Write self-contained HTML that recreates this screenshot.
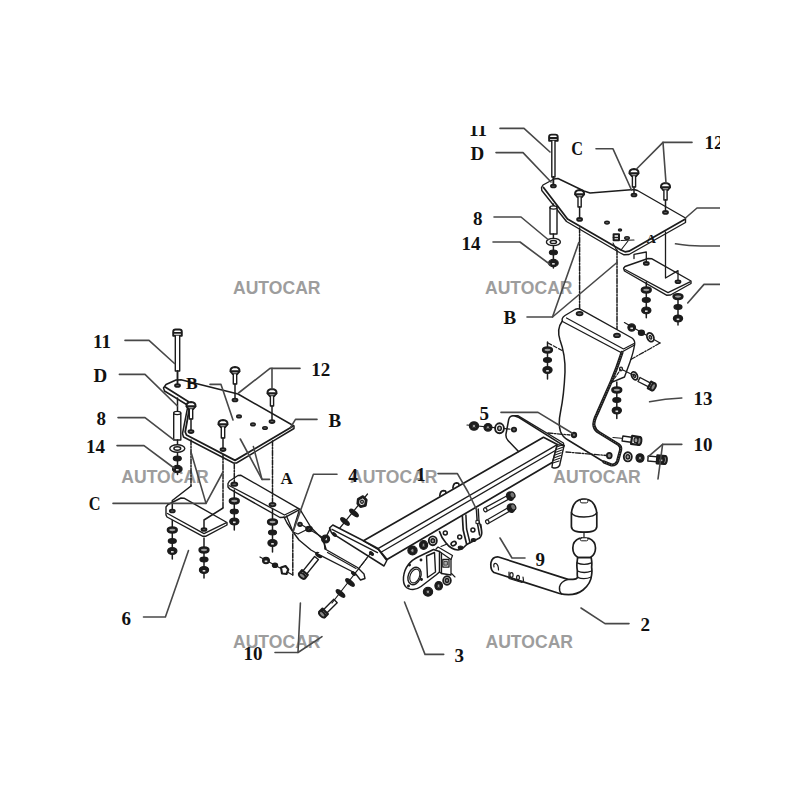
<!DOCTYPE html>
<html><head><meta charset="utf-8"><title>AUTOCAR tow bar diagram</title>
<style>html,body{margin:0;padding:0;background:#fff}body{width:800px;height:800px;overflow:hidden}svg{display:block}</style>
</head><body>
<svg width="800" height="800" viewBox="0 0 800 800" fill="none" stroke-linecap="round" stroke-linejoin="round">
<defs><clipPath id="c"><rect x="0" y="126" width="720" height="674"/></clipPath></defs>
<rect width="800" height="800" fill="#fff"/>
<g clip-path="url(#c)">
<text x="233" y="293.8" font-family='"Liberation Sans", sans-serif' font-size="18" font-weight="bold" fill="#9d9d9d" textLength="87.5" lengthAdjust="spacingAndGlyphs">AUTOCAR</text>
<text x="485" y="293.8" font-family='"Liberation Sans", sans-serif' font-size="18" font-weight="bold" fill="#9d9d9d" textLength="87.5" lengthAdjust="spacingAndGlyphs">AUTOCAR</text>
<text x="121.3" y="482.6" font-family='"Liberation Sans", sans-serif' font-size="18" font-weight="bold" fill="#9d9d9d" textLength="87.5" lengthAdjust="spacingAndGlyphs">AUTOCAR</text>
<text x="350" y="482.6" font-family='"Liberation Sans", sans-serif' font-size="18" font-weight="bold" fill="#9d9d9d" textLength="87.5" lengthAdjust="spacingAndGlyphs">AUTOCAR</text>
<text x="553.3" y="482.6" font-family='"Liberation Sans", sans-serif' font-size="18" font-weight="bold" fill="#9d9d9d" textLength="87.5" lengthAdjust="spacingAndGlyphs">AUTOCAR</text>
<text x="233" y="648" font-family='"Liberation Sans", sans-serif' font-size="18" font-weight="bold" fill="#9d9d9d" textLength="87.5" lengthAdjust="spacingAndGlyphs">AUTOCAR</text>
<text x="485.5" y="648" font-family='"Liberation Sans", sans-serif' font-size="18" font-weight="bold" fill="#9d9d9d" textLength="87.5" lengthAdjust="spacingAndGlyphs">AUTOCAR</text>
<path d="M163.5 388L166 384.5L176 380L181 379.8L238 394L294 426L294 428.5L236.5 463L233.5 463L183.5 437L182.5 433.5L187.5 408L186.5 404.5L164.5 391Z" stroke="#1c1c1c" stroke-width="1.5" fill="#fff"/>
<path d="M165.5 387.3L188.5 401.8L189.9 405.5L185.2 432L186.5 435L235 460.4L292.5 426.5" stroke="#1c1c1c" stroke-width="1.8" fill="none"/>
<path d="M173.2 335.7L173.2 331.7Q173.2 329.5 175.6 329.5L179.4 329.5Q181.8 329.5 181.8 331.7L181.8 335.7Z" stroke="#1c1c1c" stroke-width="1.9" fill="#fff"/>
<path d="M173.7 332.9L181.3 332.9" stroke="#1c1c1c" stroke-width="1.8"/>
<path d="M175.3 335.7L175.3 371L179.7 371L179.7 335.7" stroke="#1c1c1c" stroke-width="1.4" fill="#fff"/>
<path d="M177.5 371L177.5 384.5" stroke="#1c1c1c" stroke-width="1.5"/>
<ellipse cx="177.5" cy="385.5" rx="2.5" ry="1.4" stroke="#1c1c1c" stroke-width="1.8" fill="#666"/>
<path d="M177.5 371L177.5 384" stroke="#1c1c1c" stroke-width="1.5"/>
<path d="M177.5 398L177.5 412" stroke="#1c1c1c" stroke-width="1.5"/>
<path d="M173.7 413L173.7 440L180.8 440L180.8 413" stroke="#1c1c1c" stroke-width="1.4" fill="#fff"/>
<ellipse cx="177.2" cy="413" rx="3.5" ry="1.6" stroke="#1c1c1c" stroke-width="1.3" fill="#fff"/>
<path d="M177.5 440L177.5 474.5" stroke="#1c1c1c" stroke-width="1.5"/>
<ellipse cx="177.3" cy="448.5" rx="7.5" ry="3.8" stroke="#1c1c1c" stroke-width="1.4" fill="#fff"/>
<ellipse cx="177.3" cy="448.5" rx="3.4" ry="1.7" stroke="#1c1c1c" stroke-width="1.5" fill="#fff"/>
<ellipse cx="177.3" cy="458.5" rx="4" ry="2.4" stroke="#1c1c1c" stroke-width="1.2" fill="#1c1c1c"/>
<ellipse cx="177.3" cy="469" rx="4.8" ry="3.6" stroke="#1c1c1c" stroke-width="1.2" fill="#1c1c1c"/>
<rect x="176" y="469" width="2.6" height="1.6" fill="#ddd"/>
<path d="M230.4 371.3Q230.2 367.3 235 367Q239.8 367.3 239.6 371.3L237.2 374.2L232.8 374.2Z" stroke="#1c1c1c" stroke-width="1.8" fill="#fff"/>
<path d="M230.8 371.4L239.2 371.4" stroke="#1c1c1c" stroke-width="2.2"/>
<path d="M233.3 374.2L233.3 384L236.7 384L236.7 374.2" stroke="#1c1c1c" stroke-width="1.4" fill="#fff"/>
<path d="M235 384L235 399" stroke="#1c1c1c" stroke-width="1.5"/>
<ellipse cx="235" cy="400" rx="2.5" ry="1.4" stroke="#1c1c1c" stroke-width="1.8" fill="#666"/>
<path d="M267.4 393.3Q267.2 389.3 272 389Q276.8 389.3 276.6 393.3L274.2 396.2L269.8 396.2Z" stroke="#1c1c1c" stroke-width="1.8" fill="#fff"/>
<path d="M267.8 393.4L276.2 393.4" stroke="#1c1c1c" stroke-width="2.2"/>
<path d="M270.4 396.2L270.4 406L273.6 406L273.6 396.2" stroke="#1c1c1c" stroke-width="1.4" fill="#fff"/>
<path d="M272 406L272 420.6" stroke="#1c1c1c" stroke-width="1.5"/>
<ellipse cx="272" cy="421.6" rx="2.5" ry="1.4" stroke="#1c1c1c" stroke-width="1.8" fill="#666"/>
<path d="M186.4 406.3Q186.2 402.3 191 402Q195.8 402.3 195.6 406.3L193.2 409.2L188.8 409.2Z" stroke="#1c1c1c" stroke-width="1.8" fill="#fff"/>
<path d="M186.8 406.4L195.2 406.4" stroke="#1c1c1c" stroke-width="2.2"/>
<path d="M189.3 409.2L189.3 419L192.7 419L192.7 409.2" stroke="#1c1c1c" stroke-width="1.4" fill="#fff"/>
<path d="M191 419L191 430.6" stroke="#1c1c1c" stroke-width="1.5"/>
<ellipse cx="191" cy="431.6" rx="2.5" ry="1.4" stroke="#1c1c1c" stroke-width="1.8" fill="#666"/>
<path d="M218.4 424.3Q218.2 420.3 223 420Q227.8 420.3 227.6 424.3L225.2 427.2L220.8 427.2Z" stroke="#1c1c1c" stroke-width="1.8" fill="#fff"/>
<path d="M218.8 424.4L227.2 424.4" stroke="#1c1c1c" stroke-width="2.2"/>
<path d="M221.3 427.2L221.3 438L224.7 438L224.7 427.2" stroke="#1c1c1c" stroke-width="1.4" fill="#fff"/>
<path d="M223 438L223 448.6" stroke="#1c1c1c" stroke-width="1.5"/>
<ellipse cx="223" cy="449.6" rx="2.5" ry="1.4" stroke="#1c1c1c" stroke-width="1.8" fill="#666"/>
<ellipse cx="239" cy="416.4" rx="2.3" ry="1.4" stroke="#1c1c1c" stroke-width="1.4" fill="#555"/>
<ellipse cx="253" cy="424.4" rx="2.3" ry="1.4" stroke="#1c1c1c" stroke-width="1.4" fill="#555"/>
<ellipse cx="265" cy="428" rx="2.3" ry="1.4" stroke="#1c1c1c" stroke-width="1.4" fill="#555"/>
<path d="M166 507L168 504.5L181 498L184 498.2L227 522.5L227 525L206 536.2L202.5 536.2L167 517L166 515Z" stroke="#1c1c1c" stroke-width="1.4" fill="#fff"/>
<path d="M167.5 513.5L204 533.6L226 522.8" stroke="#1c1c1c" stroke-width="1.3" fill="none"/>
<ellipse cx="172.3" cy="511" rx="2.5" ry="1.4" stroke="#1c1c1c" stroke-width="1.8" fill="#666"/>
<ellipse cx="204" cy="529.5" rx="2.5" ry="1.4" stroke="#1c1c1c" stroke-width="1.8" fill="#666"/>
<path d="M172.3 520.5L172.3 559" stroke="#1c1c1c" stroke-width="1.5"/>
<ellipse cx="172.3" cy="530" rx="4.4" ry="2.4" stroke="#1c1c1c" stroke-width="2.5" fill="#999"/>
<ellipse cx="172.3" cy="541" rx="4" ry="2.4" stroke="#1c1c1c" stroke-width="1.2" fill="#1c1c1c"/>
<ellipse cx="172.3" cy="551" rx="4.6" ry="3.4" stroke="#1c1c1c" stroke-width="1.2" fill="#1c1c1c"/>
<rect x="171" y="551" width="2.6" height="1.6" fill="#ddd"/>
<path d="M204 538L204 578" stroke="#1c1c1c" stroke-width="1.5"/>
<ellipse cx="204" cy="550" rx="4.4" ry="2.4" stroke="#1c1c1c" stroke-width="2.5" fill="#999"/>
<ellipse cx="204" cy="559.5" rx="4" ry="2.4" stroke="#1c1c1c" stroke-width="1.2" fill="#1c1c1c"/>
<ellipse cx="204" cy="570" rx="4.6" ry="3.4" stroke="#1c1c1c" stroke-width="1.2" fill="#1c1c1c"/>
<rect x="202.7" y="570" width="2.6" height="1.6" fill="#ddd"/>
<path d="M228 483.5L229.5 481L238 475.5L241 475.3L300 509.3L285 517.3L280 517.5L229.5 488.8L228 487Z" stroke="#1c1c1c" stroke-width="1.4" fill="#fff"/>
<path d="M229.5 485.7L284.5 515L298 508.5" stroke="#1c1c1c" stroke-width="1.3" fill="none"/>
<ellipse cx="234.3" cy="484.2" rx="3" ry="1.7" stroke="#1c1c1c" stroke-width="1.8" fill="#666"/>
<ellipse cx="272.5" cy="504.6" rx="3" ry="1.7" stroke="#1c1c1c" stroke-width="1.8" fill="#666"/>
<path d="M234.3 490L234.3 530" stroke="#1c1c1c" stroke-width="1.5"/>
<ellipse cx="234.3" cy="501" rx="4.4" ry="2.4" stroke="#1c1c1c" stroke-width="2.5" fill="#999"/>
<ellipse cx="234.3" cy="511.5" rx="4" ry="2.4" stroke="#1c1c1c" stroke-width="1.2" fill="#1c1c1c"/>
<ellipse cx="234.3" cy="521.5" rx="4.6" ry="3.4" stroke="#1c1c1c" stroke-width="1.2" fill="#1c1c1c"/>
<rect x="233" y="521.5" width="2.6" height="1.6" fill="#ddd"/>
<path d="M272.5 509L272.5 552" stroke="#1c1c1c" stroke-width="1.5"/>
<ellipse cx="272.5" cy="522" rx="4.4" ry="2.4" stroke="#1c1c1c" stroke-width="2.5" fill="#999"/>
<ellipse cx="272.5" cy="532.5" rx="4" ry="2.4" stroke="#1c1c1c" stroke-width="1.2" fill="#1c1c1c"/>
<ellipse cx="272.5" cy="543" rx="4.6" ry="3.4" stroke="#1c1c1c" stroke-width="1.2" fill="#1c1c1c"/>
<rect x="271.2" y="543" width="2.6" height="1.6" fill="#ddd"/>
<path d="M191 440L191 486" stroke="#1c1c1c" stroke-width="1.5" stroke-dasharray="5 1.5 1.5 1.5"/>
<path d="M191 486L172.3 500.5L172.3 509" stroke="#1c1c1c" stroke-width="1.5" fill="none"/>
<path d="M223 455L223 508" stroke="#1c1c1c" stroke-width="1.5" stroke-dasharray="5 1.5 1.5 1.5"/>
<path d="M223 508L204 520L204 528" stroke="#1c1c1c" stroke-width="1.5" fill="none"/>
<path d="M234.3 464L234.3 482" stroke="#1c1c1c" stroke-width="1.5" stroke-dasharray="5 1.5 1.5 1.5"/>
<path d="M272.5 441L272.5 503" stroke="#1c1c1c" stroke-width="1.5" stroke-dasharray="5 1.5 1.5 1.5"/>
<path d="M300 509.3L304 516L311 527.5L317.5 534L323 539.5L326 549" stroke="#1c1c1c" stroke-width="1.4" fill="none"/>
<path d="M284 517L287 523L292.7 531.5L299 540L311 550L318 554" stroke="#1c1c1c" stroke-width="1.4" fill="none"/>
<path d="M299 511L295 524L293 532" stroke="#1c1c1c" stroke-width="1.3" fill="none"/>
<path d="M286.5 516L292.5 530.5" stroke="#1c1c1c" stroke-width="1.3" fill="none"/>
<path d="M293 532L298 534L304 531L308 529" stroke="#1c1c1c" stroke-width="1.2" fill="none"/>
<ellipse cx="300" cy="524.3" rx="1.9" ry="1.7" stroke="#1c1c1c" stroke-width="1.8" fill="#777"/>
<ellipse cx="309" cy="529" rx="3.2" ry="2.6" stroke="#1c1c1c" stroke-width="1.2" fill="#1c1c1c"/>
<ellipse cx="309" cy="529" rx="1.2" ry="1" stroke="#1c1c1c" stroke-width="0.9" fill="#fff"/>
<ellipse cx="325.6" cy="539" rx="4" ry="4" stroke="#1c1c1c" stroke-width="1.2" fill="#1c1c1c"/>
<rect x="324.3" y="539" width="2.6" height="1.6" fill="#ddd"/>
<ellipse cx="326" cy="539" rx="1.6" ry="1.6" stroke="#1c1c1c" stroke-width="0.9" fill="#fff"/>
<path d="M302 525L322 537" stroke="#1c1c1c" stroke-width="1.2"/>
<path d="M292.8 534L292.8 575" stroke="#1c1c1c" stroke-width="1.5" stroke-dasharray="5 1.5 1.5 1.5"/>
<path d="M292.8 575L260 557" stroke="#1c1c1c" stroke-width="1.2"/>
<ellipse cx="266" cy="560.5" rx="3.4" ry="3.2" stroke="#1c1c1c" stroke-width="1.2" fill="#1c1c1c"/>
<rect x="264.7" y="560.5" width="2.6" height="1.6" fill="#ddd"/>
<ellipse cx="275" cy="565.3" rx="2.6" ry="2.2" stroke="#1c1c1c" stroke-width="1.2" fill="#1c1c1c"/>
<path d="M281 567.5L285.5 566L288.3 569.5L286.5 574L282 573.5Z" stroke="#1c1c1c" stroke-width="2.1" fill="#fff"/>
<path d="M301.8 572.4L314.6 556.5L318.4 559.5L305.6 575.4Z" stroke="#1c1c1c" stroke-width="1.4" fill="#fff"/>
<path d="M299 573.6L301.9 570.1L307.8 574.9L305 578.4Z" stroke="#1c1c1c" stroke-width="2.2" fill="#fff"/>
<ellipse cx="302.2" cy="575.8" rx="2.2" ry="3.8" stroke="#1c1c1c" stroke-width="1.9" fill="#888" transform="rotate(-51.14662565964667 302.2 575.8)"/>
<ellipse cx="318.8" cy="555" rx="3.4" ry="1.7" stroke="#1c1c1c" stroke-width="1.4" fill="#1c1c1c" transform="rotate(35 318.8 555)"/>
<path d="M322.2 610.9L333.8 599.3L337.2 602.7L325.6 614.3Z" stroke="#1c1c1c" stroke-width="1.4" fill="#fff"/>
<path d="M319.3 611.8L322.5 608.6L327.9 614L324.7 617.2Z" stroke="#1c1c1c" stroke-width="2.2" fill="#fff"/>
<ellipse cx="322.2" cy="614.3" rx="2.2" ry="3.8" stroke="#1c1c1c" stroke-width="1.9" fill="#888" transform="rotate(-45.0 322.2 614.3)"/>
<path d="M367 558L332 603" stroke="#1c1c1c" stroke-width="1.2"/>
<ellipse cx="350" cy="582.5" rx="5.2" ry="1.9" stroke="#1c1c1c" stroke-width="1.4" fill="#1c1c1c" transform="rotate(40 350 582.5)"/>
<ellipse cx="340.5" cy="593.5" rx="5.2" ry="1.9" stroke="#1c1c1c" stroke-width="1.4" fill="#1c1c1c" transform="rotate(40 340.5 593.5)"/>
<path d="M367.5 494L335 534" stroke="#1c1c1c" stroke-width="1.2"/>
<ellipse cx="354" cy="513" rx="5.2" ry="1.9" stroke="#1c1c1c" stroke-width="1.4" fill="#1c1c1c" transform="rotate(40 354 513)"/>
<ellipse cx="345" cy="521.5" rx="5.2" ry="1.9" stroke="#1c1c1c" stroke-width="1.4" fill="#1c1c1c" transform="rotate(40 345 521.5)"/>
<path d="M358.3 499.2L363 496.6L366.2 500L365.4 505.4L360.6 506.6L357.8 503.6Z" stroke="#1c1c1c" stroke-width="2.8" fill="#fff"/>
<ellipse cx="362" cy="501.7" rx="1.3" ry="1.6" stroke="#1c1c1c" stroke-width="1.4" fill="#fff"/>
<path d="M329.5 528L332.8 525L364 541L378.5 549.5L386.8 560.5L384 566L331.5 532.8Z" stroke="#1c1c1c" stroke-width="1.5" fill="#fff"/>
<path d="M332 529.3L377.5 552.6" stroke="#1c1c1c" stroke-width="1.3" fill="none"/>
<path d="M330 529L324 541L325 549" stroke="#1c1c1c" stroke-width="1.4" fill="none"/>
<path d="M325 549L357.5 567.5L364 574L365 578.5L360.5 580L355 573L317.5 553.8" stroke="#1c1c1c" stroke-width="1.4" fill="#fff"/>
<path d="M327.5 552.5L356 568.5" stroke="#1c1c1c" stroke-width="1.2" fill="none"/>
<path d="M370 554L353 576" stroke="#1c1c1c" stroke-width="1.2" stroke-dasharray="5 1.5 1.5 1.5"/>
<ellipse cx="334.3" cy="534.5" rx="2.2" ry="1.2" stroke="#1c1c1c" stroke-width="1.4" fill="#1c1c1c" transform="rotate(35 334.3 534.5)"/>
<ellipse cx="371.5" cy="553.5" rx="2.2" ry="1.2" stroke="#1c1c1c" stroke-width="1.4" fill="#1c1c1c" transform="rotate(35 371.5 553.5)"/>
<ellipse cx="353.5" cy="573.5" rx="2.2" ry="1.2" stroke="#1c1c1c" stroke-width="1.4" fill="#1c1c1c" transform="rotate(35 353.5 573.5)"/>
<path d="M363.5 540.8L543.5 437.3L557.3 444.6L552.6 462.2L387 559.6L378 548.6Z" stroke="#1c1c1c" stroke-width="1.7" fill="#fff"/>
<path d="M378 548.6L557.3 444.6" stroke="#1c1c1c" stroke-width="1.4"/>
<path d="M381 552.2L556.2 450" stroke="#1c1c1c" stroke-width="1.3"/>
<path d="M557.3 444.6L564 445.8L559.6 465.5Q557 469.5 552 467.3L552.6 462.2Z" stroke="#1c1c1c" stroke-width="1.4" fill="#fff"/>
<path d="M557.3 446.8L563.5 444.6" stroke="#1c1c1c" stroke-width="1.1"/>
<path d="M556.5 449.5L562.8 447.3" stroke="#1c1c1c" stroke-width="1.1"/>
<path d="M555.8 452.2L562 450" stroke="#1c1c1c" stroke-width="1.1"/>
<path d="M555 455L561.2 452.8" stroke="#1c1c1c" stroke-width="1.1"/>
<path d="M554.3 457.7L560.5 455.5" stroke="#1c1c1c" stroke-width="1.1"/>
<path d="M553.5 460.4L559.8 458.2" stroke="#1c1c1c" stroke-width="1.1"/>
<path d="M552.8 463.1L559 460.9" stroke="#1c1c1c" stroke-width="1.1"/>
<path d="M518.5 451.5L508 440.5Q505.5 438 506 434L508.7 419.5Q510 415 515 416L519 417.5L564 445.8" stroke="#1c1c1c" stroke-width="1.5" fill="none"/>
<path d="M513 415.6L517.8 415.6L563.4 443L564 445.8" stroke="#1c1c1c" stroke-width="1.3" fill="none"/>
<ellipse cx="514" cy="429.6" rx="2.2" ry="2" stroke="#1c1c1c" stroke-width="1.8" fill="#666"/>
<path d="M467 425L510 429.2" stroke="#1c1c1c" stroke-width="1.2"/>
<ellipse cx="474" cy="426" rx="4.6" ry="4.2" stroke="#1c1c1c" stroke-width="1.2" fill="#1c1c1c"/>
<rect x="472.7" y="426" width="2.6" height="1.6" fill="#ddd"/>
<ellipse cx="474" cy="426" rx="1.8" ry="1.8" stroke="#1c1c1c" stroke-width="0.9" fill="#999"/>
<ellipse cx="488" cy="427.3" rx="4" ry="3.8" stroke="#1c1c1c" stroke-width="1.2" fill="#1c1c1c"/>
<rect x="486.7" y="427.3" width="2.6" height="1.6" fill="#ddd"/>
<ellipse cx="488" cy="427.3" rx="1.6" ry="1.6" stroke="#1c1c1c" stroke-width="0.9" fill="#999"/>
<ellipse cx="499.5" cy="428.3" rx="4.4" ry="5" stroke="#1c1c1c" stroke-width="1.9" fill="#fff"/>
<ellipse cx="499.5" cy="428.3" rx="1.8" ry="2.2" stroke="#1c1c1c" stroke-width="1.4" fill="#bbb"/>
<path d="M548 433L570 435" stroke="#1c1c1c" stroke-width="1.3" stroke-dasharray="5 1.5 1.5 1.5"/>
<ellipse cx="574" cy="435" rx="2.2" ry="2.2" stroke="#1c1c1c" stroke-width="1.9" fill="#666"/>
<path d="M566 452L607 455.5" stroke="#1c1c1c" stroke-width="1.3" stroke-dasharray="5 1.5 1.5 1.5"/>
<path d="M439.8 495.7Q440.2 490.8 443.40000000000003 490.6Q446.2 490.6 445.8 492.3" stroke="#1c1c1c" stroke-width="1.7" fill="none"/>
<path d="M452.9 488.0Q453.29999999999995 483.1 456.5 482.90000000000003Q459.29999999999995 482.90000000000003 458.9 484.6" stroke="#1c1c1c" stroke-width="1.7" fill="none"/>
<path d="M439.5 531.5Q441.5 538 446 543Q451 549.5 458 550L462 549L466.7 544.5L470 542.8L479.5 538Q482.3 535.5 481.6 531L480.7 524.7" stroke="#1c1c1c" stroke-width="1.7" fill="none"/>
<path d="M476.4 509L477.2 522L479.6 535" stroke="#1c1c1c" stroke-width="1.5" fill="none"/>
<path d="M478.3 509L479 521L480.7 527" stroke="#1c1c1c" stroke-width="1.3" fill="none"/>
<path d="M462.4 516.5L463.2 530L466.7 544.5" stroke="#1c1c1c" stroke-width="1.7" fill="none"/>
<path d="M465.9 515L466.6 529L470 542.8" stroke="#1c1c1c" stroke-width="1.5" fill="none"/>
<ellipse cx="445.3" cy="533" rx="2" ry="1.9" stroke="#1c1c1c" stroke-width="1.5" fill="#fff"/>
<ellipse cx="459.7" cy="537" rx="2" ry="1.9" stroke="#1c1c1c" stroke-width="1.5" fill="#fff"/>
<ellipse cx="472.9" cy="530" rx="2" ry="1.9" stroke="#1c1c1c" stroke-width="1.5" fill="#fff"/>
<ellipse cx="453.6" cy="543.6" rx="2.6" ry="2" stroke="#1c1c1c" stroke-width="1.7" fill="#fff" transform="rotate(-30 453.6 543.6)"/>
<ellipse cx="460.5" cy="547.5" rx="2.2" ry="1.5" stroke="#1c1c1c" stroke-width="1.2" fill="#1c1c1c"/>
<ellipse cx="473.5" cy="540" rx="2.2" ry="1.5" stroke="#1c1c1c" stroke-width="1.2" fill="#1c1c1c"/>
<rect x="476.3" y="520.4" width="2.6" height="3.2" stroke="#1c1c1c" stroke-width="1" fill="#fff"/>
<path d="M509.8 498.6L486.2 511.5L484.4 508.1L508 495.3Z" stroke="#1c1c1c" stroke-width="1.2" fill="#fff"/>
<ellipse cx="485.3" cy="509.8" rx="1.6" ry="2" stroke="#1c1c1c" stroke-width="1.2" fill="#fff" transform="rotate(-25 485.3 509.8)"/>
<ellipse cx="510.2" cy="496.2" rx="3.4" ry="4.2" stroke="#1c1c1c" stroke-width="1.5" fill="#1c1c1c" transform="rotate(-25 510.2 496.2)"/>
<ellipse cx="512.4" cy="495" rx="2.4" ry="3.2" stroke="#1c1c1c" stroke-width="1.2" fill="#777" transform="rotate(-25 512.4 495)"/>
<path d="M510.6 510.6L488.2 523.4L486.4 520.2L508.8 507.3Z" stroke="#1c1c1c" stroke-width="1.2" fill="#fff"/>
<ellipse cx="487.3" cy="521.8" rx="1.6" ry="2" stroke="#1c1c1c" stroke-width="1.2" fill="#fff" transform="rotate(-25 487.3 521.8)"/>
<ellipse cx="511" cy="508.2" rx="3.4" ry="4.2" stroke="#1c1c1c" stroke-width="1.5" fill="#1c1c1c" transform="rotate(-25 511 508.2)"/>
<ellipse cx="513.2" cy="507" rx="2.4" ry="3.2" stroke="#1c1c1c" stroke-width="1.2" fill="#777" transform="rotate(-25 513.2 507)"/>
<path d="M433.5 549.5L419 556.5Q405 563 403.5 577Q402.5 589.5 413 589.5Q417 589.5 421 586.5L436 575L439.5 572L439.5 551.5Z" stroke="#1c1c1c" stroke-width="1.5" fill="#fff"/>
<ellipse cx="414.5" cy="576" rx="6.2" ry="9" stroke="#1c1c1c" stroke-width="1.4" fill="#fff" transform="rotate(22 414.5 576)"/>
<ellipse cx="414.8" cy="576" rx="4.6" ry="7.2" stroke="#1c1c1c" stroke-width="1.1" fill="none" transform="rotate(22 414.8 576)"/>
<path d="M426.5 556L434.5 552.5L435.5 572L427.5 577.5Z" stroke="#1c1c1c" stroke-width="1.4" fill="none"/>
<ellipse cx="409.5" cy="565" rx="0.9" ry="0.9" stroke="#1c1c1c" stroke-width="1.1" fill="#1c1c1c"/>
<ellipse cx="421" cy="560" rx="0.9" ry="0.9" stroke="#1c1c1c" stroke-width="1.1" fill="#1c1c1c"/>
<ellipse cx="408.5" cy="586" rx="0.9" ry="0.9" stroke="#1c1c1c" stroke-width="1.1" fill="#1c1c1c"/>
<ellipse cx="421.5" cy="579.5" rx="0.9" ry="0.9" stroke="#1c1c1c" stroke-width="1.1" fill="#1c1c1c"/>
<path d="M439.5 551.5L441.5 553L441.5 573.5L439.5 572" stroke="#1c1c1c" stroke-width="1.3" fill="none"/>
<path d="M441.5 553L451 559.5L451 575L441.5 573.5" stroke="#1c1c1c" stroke-width="1.3" fill="none"/>
<path d="M436 549L438 547L452.5 555.5L451 559.5" stroke="#1c1c1c" stroke-width="1.2" fill="none"/>
<rect x="442.8" y="559.5" width="6.2" height="7.6" stroke="#1c1c1c" stroke-width="1.3" fill="#fff"/>
<rect x="444.4" y="561.4" width="3" height="3.8" stroke="#1c1c1c" stroke-width="0.8" fill="#aaa"/>
<path d="M441 546.5L447 544" stroke="#1c1c1c" stroke-width="1.1"/>
<path d="M451.5 573.5L455 577" stroke="#1c1c1c" stroke-width="1.1"/>
<ellipse cx="412.5" cy="550.5" rx="4.6" ry="4.4" stroke="#1c1c1c" stroke-width="1.2" fill="#1c1c1c"/>
<rect x="411.2" y="550.5" width="2.6" height="1.6" fill="#ddd"/>
<ellipse cx="412.5" cy="550.5" rx="1.8" ry="1.8" stroke="#1c1c1c" stroke-width="0.9" fill="#999"/>
<ellipse cx="423.6" cy="545" rx="4" ry="4.4" stroke="#1c1c1c" stroke-width="1.2" fill="#1c1c1c"/>
<rect x="422.3" y="545" width="2.6" height="1.6" fill="#ddd"/>
<ellipse cx="423.6" cy="545" rx="1.5" ry="1.8" stroke="#1c1c1c" stroke-width="0.9" fill="#999"/>
<ellipse cx="432.8" cy="540.8" rx="4" ry="4.4" stroke="#1c1c1c" stroke-width="1.9" fill="#fff"/>
<ellipse cx="432.8" cy="540.8" rx="1.8" ry="2" stroke="#1c1c1c" stroke-width="1.5" fill="#999"/>
<ellipse cx="428" cy="591.8" rx="4.6" ry="4.4" stroke="#1c1c1c" stroke-width="1.2" fill="#1c1c1c"/>
<rect x="426.7" y="591.8" width="2.6" height="1.6" fill="#ddd"/>
<ellipse cx="428" cy="591.8" rx="1.8" ry="1.8" stroke="#1c1c1c" stroke-width="0.9" fill="#999"/>
<ellipse cx="438.7" cy="585.8" rx="3.8" ry="4.2" stroke="#1c1c1c" stroke-width="1.2" fill="#1c1c1c"/>
<rect x="437.4" y="585.8" width="2.6" height="1.6" fill="#ddd"/>
<ellipse cx="438.7" cy="585.8" rx="1.5" ry="1.8" stroke="#1c1c1c" stroke-width="0.9" fill="#999"/>
<ellipse cx="447" cy="580.5" rx="3.8" ry="4.2" stroke="#1c1c1c" stroke-width="1.9" fill="#fff"/>
<ellipse cx="447" cy="580.5" rx="1.7" ry="1.9" stroke="#1c1c1c" stroke-width="1.5" fill="#999"/>
<path d="M571.4 513C572.5 503 576.5 499 584 499C591.5 499 595.5 503 596.8 513L596.8 526.5Q596.8 532.2 584 532.2Q571.4 532.2 571.4 526.5Z" stroke="#1c1c1c" stroke-width="1.7" fill="#fff"/>
<path d="M571.4 512.5Q573 517 584 517Q595 517 596.8 512.5" stroke="#1c1c1c" stroke-width="1.3" fill="none"/>
<rect x="580.3" y="499.3" width="7.6" height="3.6" rx="1.6" stroke="#1c1c1c" stroke-width="1" fill="#fff"/>
<path d="M584 532L584 538" stroke="#1c1c1c" stroke-width="1.2"/>
<path d="M579.5 538.3Q572.8 541 572.8 548Q572.8 554.5 578 557.6L590.4 557.6Q595.5 554.5 595.5 548Q595.5 541 588.7 538.3Z" stroke="#1c1c1c" stroke-width="1.7" fill="#fff"/>
<rect x="580.3" y="537.8" width="7.6" height="3" rx="1.4" stroke="#1c1c1c" stroke-width="1" fill="#fff"/>
<path d="M577.6 557.6L577 562.8Q576.6 567 577.4 571Q577 575 577.6 577.3Q577 579.2 573 579.4Q570 579.5 568 579.4L498.5 557Q492.5 556.5 491 562.5Q490 569.5 494 572.5L559.5 593.5Q574 597 583 590Q591 583.5 591.6 575Q592.2 571 591.6 567Q592.2 563 591.2 557.6Z" stroke="#1c1c1c" stroke-width="1.7" fill="#fff"/>
<path d="M577 562.8Q584 565.8 591.5 562.8" stroke="#1c1c1c" stroke-width="1.3" fill="none"/>
<path d="M577.4 571Q584 574 591.6 571" stroke="#1c1c1c" stroke-width="1.3" fill="none"/>
<path d="M577.6 577.3Q584 580 591.3 577" stroke="#1c1c1c" stroke-width="1.3" fill="none"/>
<path d="M568 579.4Q560.5 581.5 559.5 587Q559 591.5 561.5 594" stroke="#1c1c1c" stroke-width="1.4" fill="none"/>
<path d="M494 567Q493 563 496 563.5Q498.5 565 498.5 570" stroke="#1c1c1c" stroke-width="1.2" fill="none"/>
<path d="M509 572L509 578.5L522 582.5L523.5 580.5L523 577" stroke="#1c1c1c" stroke-width="1.2" fill="none"/>
<ellipse cx="511.5" cy="575" rx="1.6" ry="2.4" stroke="#1c1c1c" stroke-width="1.2" fill="#fff"/>
<ellipse cx="518" cy="577.5" rx="1.4" ry="2.2" stroke="#1c1c1c" stroke-width="1.2" fill="#fff"/>
<path d="M541.5 187.5L543 185L554 179L558 178.5L584 191L590 193L634 189.5L637.5 190.5L685.5 218L685.5 222.5L629 254.5L624 254.8L619.5 252.5L566.5 221.5L541.8 190.5Z" stroke="#1c1c1c" stroke-width="1.4" fill="#fff"/>
<path d="M543.5 187.5L567.5 219L621 250L625 251.8L629 251.2L684.5 219.5" stroke="#1c1c1c" stroke-width="1.8" fill="none"/>
<path d="M549.1 140.8L549.1 136.8Q549.1 134.6 551.5 134.6L555.3 134.6Q557.7 134.6 557.7 136.8L557.7 140.8Z" stroke="#1c1c1c" stroke-width="1.9" fill="#fff"/>
<path d="M549.6 138L557.2 138" stroke="#1c1c1c" stroke-width="1.8"/>
<path d="M551.8 140.8L551.8 177L555 177L555 140.8" stroke="#1c1c1c" stroke-width="1.4" fill="#fff"/>
<path d="M553.4 177L553.4 185" stroke="#1c1c1c" stroke-width="1.5"/>
<ellipse cx="553.4" cy="186" rx="2.5" ry="1.4" stroke="#1c1c1c" stroke-width="1.8" fill="#666"/>
<path d="M553.4 177L553.4 185" stroke="#1c1c1c" stroke-width="1.5"/>
<path d="M553.4 204L553.4 207" stroke="#1c1c1c" stroke-width="1.5"/>
<path d="M550 207.5L550 234L557 234L557 207.5" stroke="#1c1c1c" stroke-width="1.4" fill="#fff"/>
<ellipse cx="553.5" cy="207.5" rx="3.5" ry="1.6" stroke="#1c1c1c" stroke-width="1.3" fill="#fff"/>
<path d="M553.4 234L553.4 268" stroke="#1c1c1c" stroke-width="1.5"/>
<ellipse cx="553.4" cy="242" rx="7" ry="3.6" stroke="#1c1c1c" stroke-width="1.4" fill="#fff"/>
<ellipse cx="553.4" cy="242" rx="3.1" ry="1.6" stroke="#1c1c1c" stroke-width="1.5" fill="#fff"/>
<ellipse cx="553.4" cy="252.4" rx="4" ry="2.4" stroke="#1c1c1c" stroke-width="1.2" fill="#1c1c1c"/>
<ellipse cx="553.4" cy="263" rx="4.8" ry="3.6" stroke="#1c1c1c" stroke-width="1.2" fill="#1c1c1c"/>
<rect x="552.1" y="263" width="2.6" height="1.6" fill="#ddd"/>
<path d="M575 194.3Q574.8 190.3 579.6 190Q584.4 190.3 584.2 194.3L581.9 197.2L577.4 197.2Z" stroke="#1c1c1c" stroke-width="1.8" fill="#fff"/>
<path d="M575.4 194.4L583.8 194.4" stroke="#1c1c1c" stroke-width="2.2"/>
<path d="M578 197.2L578 207L581.2 207L581.2 197.2" stroke="#1c1c1c" stroke-width="1.4" fill="#fff"/>
<path d="M579.6 207L579.6 218.4" stroke="#1c1c1c" stroke-width="1.5"/>
<ellipse cx="579.6" cy="219.4" rx="2.5" ry="1.4" stroke="#1c1c1c" stroke-width="1.8" fill="#666"/>
<path d="M629.4 173.3Q629.2 169.3 634 169Q638.8 169.3 638.6 173.3L636.2 176.2L631.8 176.2Z" stroke="#1c1c1c" stroke-width="1.8" fill="#fff"/>
<path d="M629.8 173.4L638.2 173.4" stroke="#1c1c1c" stroke-width="2.2"/>
<path d="M632.4 176.2L632.4 187L635.6 187L635.6 176.2" stroke="#1c1c1c" stroke-width="1.4" fill="#fff"/>
<path d="M634 187L634 194" stroke="#1c1c1c" stroke-width="1.5"/>
<ellipse cx="634" cy="195" rx="2.5" ry="1.4" stroke="#1c1c1c" stroke-width="1.8" fill="#666"/>
<path d="M660.9 187.3Q660.7 183.3 665.5 183Q670.3 183.3 670.1 187.3L667.8 190.2L663.2 190.2Z" stroke="#1c1c1c" stroke-width="1.8" fill="#fff"/>
<path d="M661.3 187.4L669.7 187.4" stroke="#1c1c1c" stroke-width="2.2"/>
<path d="M663.9 190.2L663.9 200L667.1 200L667.1 190.2" stroke="#1c1c1c" stroke-width="1.4" fill="#fff"/>
<path d="M665.5 200L665.5 211.4" stroke="#1c1c1c" stroke-width="1.5"/>
<ellipse cx="665.5" cy="212.4" rx="2.5" ry="1.4" stroke="#1c1c1c" stroke-width="1.8" fill="#666"/>
<ellipse cx="607" cy="222.6" rx="2.3" ry="1.4" stroke="#1c1c1c" stroke-width="1.4" fill="#666"/>
<ellipse cx="627" cy="238" rx="2.3" ry="1.4" stroke="#1c1c1c" stroke-width="1.4" fill="#666"/>
<ellipse cx="620" cy="230" rx="1.6" ry="1" stroke="#1c1c1c" stroke-width="1.3" fill="#555"/>
<rect x="613.6" y="234.2" width="5.4" height="6" stroke="#1c1c1c" stroke-width="2" fill="#fff"/>
<path d="M613.4 237.5L619 237.5" stroke="#1c1c1c" stroke-width="1.4"/>
<path d="M634 240L621 240.5" stroke="#1c1c1c" stroke-width="1.1" fill="none"/>
<path d="M628 241L621 250" stroke="#1c1c1c" stroke-width="1.1" fill="none"/>
<path d="M613 243L616.5 250" stroke="#1c1c1c" stroke-width="1.1" fill="none"/>
<path d="M579.6 228L579.6 311" stroke="#1c1c1c" stroke-width="1.5" stroke-dasharray="5 1.5 1.5 1.5"/>
<path d="M617 250L617 333" stroke="#1c1c1c" stroke-width="1.5" stroke-dasharray="5 1.5 1.5 1.5"/>
<path d="M623.6 268.3L625 266.5L648 258.5L652 258.8L691 281L691 283.5L670.5 295L666.5 295.2L624.5 271Z" stroke="#1c1c1c" stroke-width="1.4" fill="#fff"/>
<path d="M625 269.5L668 292.6L690 281.8" stroke="#1c1c1c" stroke-width="1.3" fill="none"/>
<ellipse cx="646.3" cy="263.4" rx="2.5" ry="1.4" stroke="#1c1c1c" stroke-width="1.8" fill="#666"/>
<ellipse cx="678" cy="281.8" rx="2.5" ry="1.4" stroke="#1c1c1c" stroke-width="1.8" fill="#666"/>
<path d="M634 258.5L634 254.3L646.3 252L646.3 262" stroke="#1c1c1c" stroke-width="1.3" fill="none"/>
<path d="M665.5 232L665.5 278L678 270.6L678 280" stroke="#1c1c1c" stroke-width="1.3" fill="none"/>
<path d="M646.3 282L646.3 317.7" stroke="#1c1c1c" stroke-width="1.5"/>
<ellipse cx="646.3" cy="290" rx="4.4" ry="2.4" stroke="#1c1c1c" stroke-width="2.5" fill="#999"/>
<ellipse cx="646.3" cy="300" rx="4" ry="2.4" stroke="#1c1c1c" stroke-width="1.2" fill="#1c1c1c"/>
<ellipse cx="646.3" cy="310.4" rx="4.6" ry="3.4" stroke="#1c1c1c" stroke-width="1.2" fill="#1c1c1c"/>
<rect x="645" y="310.4" width="2.6" height="1.6" fill="#ddd"/>
<path d="M678 294L678 325" stroke="#1c1c1c" stroke-width="1.5"/>
<ellipse cx="678" cy="296.6" rx="4.4" ry="2.4" stroke="#1c1c1c" stroke-width="2.5" fill="#999"/>
<ellipse cx="678" cy="307" rx="4" ry="2.4" stroke="#1c1c1c" stroke-width="1.2" fill="#1c1c1c"/>
<ellipse cx="678" cy="318.5" rx="4.6" ry="3.4" stroke="#1c1c1c" stroke-width="1.2" fill="#1c1c1c"/>
<rect x="676.7" y="318.5" width="2.6" height="1.6" fill="#ddd"/>
<path d="M562.5 321.5Q561 318 565 315.5L575 309.5Q578 308 581.5 309.8L632 338Q635.5 340.5 634.5 345L621 352.5L562.5 321.5Z" stroke="#1c1c1c" stroke-width="1.4" fill="#fff"/>
<path d="M566.5 318L623.5 349L634 343.5" stroke="#1c1c1c" stroke-width="1.2" fill="none"/>
<ellipse cx="579.6" cy="313.6" rx="3" ry="1.8" stroke="#1c1c1c" stroke-width="1.8" fill="#666"/>
<ellipse cx="617" cy="335.4" rx="3" ry="1.8" stroke="#1c1c1c" stroke-width="1.8" fill="#666"/>
<path d="M562 321.5Q556.5 329 560 340Q565.5 355 565 372Q564 395 560.5 412Q558 424 560.5 431.5Q562.5 437 568 440L604 462" stroke="#1c1c1c" stroke-width="1.5" fill="none"/>
<path d="M622 352.5Q617 368 611.5 381L597 414Q593.2 421.5 594 426Q595 430 599 432.5L618.5 444.5Q621.3 446.5 620.6 450L617.6 461Q616 465.3 611.5 465L604 462" stroke="#1c1c1c" stroke-width="3.2" fill="none"/>
<path d="M622 352.5Q617 368 611.5 381L597 414Q593.2 421.5 594 426Q595 430 599 432.5L618.5 444.5Q621.3 446.5 620.6 450L617.6 461Q616 465.3 611.5 465L604 462" stroke="#fff" stroke-width="0.6" stroke-dasharray="0.7 1.9" opacity="0.8" fill="none" stroke-linecap="butt"/>
<path d="M634.5 345Q633.5 352 630 362L624.5 377L611.5 382.3" stroke="#1c1c1c" stroke-width="1.4" fill="none"/>
<ellipse cx="609.3" cy="455.6" rx="2.4" ry="2.8" stroke="#1c1c1c" stroke-width="1.8" fill="#888"/>
<ellipse cx="621" cy="369" rx="1.5" ry="1.8" stroke="#1c1c1c" stroke-width="1.2" fill="#fff"/>
<path d="M547.5 342L547.5 379" stroke="#1c1c1c" stroke-width="1.5"/>
<ellipse cx="547.5" cy="350" rx="4.4" ry="2.4" stroke="#1c1c1c" stroke-width="2.5" fill="#999"/>
<ellipse cx="547.5" cy="360" rx="4" ry="2.4" stroke="#1c1c1c" stroke-width="1.2" fill="#1c1c1c"/>
<ellipse cx="547.5" cy="370" rx="4.6" ry="3.4" stroke="#1c1c1c" stroke-width="1.2" fill="#1c1c1c"/>
<rect x="546.2" y="370" width="2.6" height="1.6" fill="#ddd"/>
<path d="M548 343L563 351" stroke="#1c1c1c" stroke-width="1.2" stroke-dasharray="4 2"/>
<path d="M616.8 382L616.8 418.5" stroke="#1c1c1c" stroke-width="1.5"/>
<ellipse cx="616.8" cy="390" rx="4.4" ry="2.4" stroke="#1c1c1c" stroke-width="2.5" fill="#999"/>
<ellipse cx="616.8" cy="400" rx="4" ry="2.4" stroke="#1c1c1c" stroke-width="1.2" fill="#1c1c1c"/>
<ellipse cx="616.8" cy="410.5" rx="4.6" ry="3.4" stroke="#1c1c1c" stroke-width="1.2" fill="#1c1c1c"/>
<rect x="615.5" y="410.5" width="2.6" height="1.6" fill="#ddd"/>
<path d="M612 382L621 369" stroke="#1c1c1c" stroke-width="1.1" stroke-dasharray="3 1.5"/>
<path d="M624.4 322.6L660 343" stroke="#1c1c1c" stroke-width="1.2"/>
<ellipse cx="631.7" cy="327.5" rx="3.8" ry="3.6" stroke="#1c1c1c" stroke-width="1.2" fill="#1c1c1c"/>
<rect x="630.4" y="327.5" width="2.6" height="1.6" fill="#ddd"/>
<ellipse cx="641.4" cy="332.7" rx="3" ry="2.6" stroke="#1c1c1c" stroke-width="1.2" fill="#1c1c1c"/>
<ellipse cx="650.4" cy="337.3" rx="3.2" ry="4.6" stroke="#1c1c1c" stroke-width="1.8" fill="#fff" transform="rotate(-25 650.4 337.3)"/>
<ellipse cx="650.4" cy="337.3" rx="1.2" ry="2" stroke="#1c1c1c" stroke-width="1.2" fill="#999" transform="rotate(-25 650.4 337.3)"/>
<path d="M660 343L630 360" stroke="#1c1c1c" stroke-width="1.2" stroke-dasharray="5 1.5 1.5 1.5"/>
<ellipse cx="634.5" cy="375.8" rx="2.8" ry="4.2" stroke="#1c1c1c" stroke-width="1.8" fill="#fff" transform="rotate(-25 634.5 375.8)"/>
<ellipse cx="634.5" cy="375.8" rx="1" ry="1.8" stroke="#1c1c1c" stroke-width="1.2" fill="#999" transform="rotate(-25 634.5 375.8)"/>
<path d="M623 370L634 375.5" stroke="#1c1c1c" stroke-width="1.1"/>
<path d="M650.1 387.7L638 381.5L640 377.5L652.1 383.8Z" stroke="#1c1c1c" stroke-width="1.4" fill="#fff"/>
<path d="M651.8 390.3L647.8 388.3L651.2 381.6L655.2 383.7Z" stroke="#1c1c1c" stroke-width="2.2" fill="#fff"/>
<ellipse cx="653.2" cy="386.9" rx="2.2" ry="3.8" stroke="#1c1c1c" stroke-width="1.9" fill="#888" transform="rotate(-152.65012421993012 653.2 386.9)"/>
<path d="M613 437.5L624 438.5" stroke="#1c1c1c" stroke-width="1.2"/>
<path d="M634.4 442.8L622.1 441L622.9 436L635.1 437.8Z" stroke="#1c1c1c" stroke-width="1.4" fill="#fff"/>
<path d="M638.9 445L631 443.8L632.2 435.9L640.1 437Z" stroke="#1c1c1c" stroke-width="2.2" fill="#fff"/>
<ellipse cx="639.2" cy="441" rx="2.2" ry="4" stroke="#1c1c1c" stroke-width="1.9" fill="#888" transform="rotate(-171.63411387596742 639.2 441)"/>
<ellipse cx="636" cy="440.3" rx="2" ry="2.6" stroke="#1c1c1c" stroke-width="1.2" fill="#999"/>
<ellipse cx="627.8" cy="456.8" rx="4" ry="4.6" stroke="#1c1c1c" stroke-width="1.9" fill="#fff"/>
<ellipse cx="627.8" cy="456.8" rx="1.8" ry="2.2" stroke="#1c1c1c" stroke-width="1.4" fill="#999"/>
<ellipse cx="640" cy="458" rx="4" ry="4.2" stroke="#1c1c1c" stroke-width="1.2" fill="#1c1c1c"/>
<rect x="638.7" y="458" width="2.6" height="1.6" fill="#ddd"/>
<ellipse cx="640" cy="458" rx="1.6" ry="1.8" stroke="#1c1c1c" stroke-width="0.9" fill="#999"/>
<path d="M660 462.1L647.8 461L648.2 456L660.4 457.1Z" stroke="#1c1c1c" stroke-width="1.4" fill="#fff"/>
<path d="M664.6 464L656.7 463.3L657.4 455.3L665.4 456Z" stroke="#1c1c1c" stroke-width="2.2" fill="#fff"/>
<ellipse cx="664.7" cy="460" rx="2.2" ry="4" stroke="#1c1c1c" stroke-width="1.9" fill="#888" transform="rotate(-174.9575489308291 664.7 460)"/>
<ellipse cx="661" cy="459.5" rx="3.4" ry="4" stroke="#1c1c1c" stroke-width="1.2" fill="#1c1c1c"/>
<rect x="659.7" y="459.5" width="2.6" height="1.6" fill="#ddd"/>
<path d="M125 340.4L149 340.4L174.5 363.5" stroke="#484848" stroke-width="1.6" fill="none"/>
<path d="M119.4 374.4L145 374.4L177.4 406" stroke="#484848" stroke-width="1.6" fill="none"/>
<path d="M118 417.6L145 417.6L173.5 439.6" stroke="#484848" stroke-width="1.6" fill="none"/>
<path d="M117 445.6L144 445.6L174 468" stroke="#484848" stroke-width="1.6" fill="none"/>
<path d="M210 384.4L221 384.4L233 420" stroke="#484848" stroke-width="1.6" fill="none"/>
<path d="M300 368.4L270 368.4L238.5 393" stroke="#484848" stroke-width="1.6" fill="none"/>
<path d="M272 368.4L272 389" stroke="#484848" stroke-width="1.6" fill="none"/>
<path d="M317 419.4L295.5 419.4L290.5 427.5" stroke="#484848" stroke-width="1.6" fill="none"/>
<path d="M269.5 479.4L262 479.4L240.3 439" stroke="#484848" stroke-width="1.6" fill="none"/>
<path d="M262 479.4L253.4 446.6" stroke="#484848" stroke-width="1.6" fill="none"/>
<path d="M113 503.4L206 503.4L191 452" stroke="#484848" stroke-width="1.6" fill="none"/>
<path d="M206 503.4L223 472" stroke="#484848" stroke-width="1.6" fill="none"/>
<path d="M143.5 617L165.4 617L188.5 550.5" stroke="#484848" stroke-width="1.6" fill="none"/>
<path d="M275 652.5L298 652.5L300.4 603" stroke="#484848" stroke-width="1.6" fill="none"/>
<path d="M298 652.5L322 636.6" stroke="#484848" stroke-width="1.6" fill="none"/>
<path d="M337 474.2L313.4 474.2L293 532" stroke="#484848" stroke-width="1.6" fill="none"/>
<path d="M438 473.6L457.4 473.6L468 492L476.5 509.5" stroke="#484848" stroke-width="1.6" fill="none"/>
<path d="M404.5 602L425 654.4L443.7 654.4" stroke="#484848" stroke-width="1.6" fill="none"/>
<path d="M500 538L512 558L525 558" stroke="#484848" stroke-width="1.6" fill="none"/>
<path d="M581 608L605 623.6L629 623.6" stroke="#484848" stroke-width="1.6" fill="none"/>
<path d="M501 412.4L538 412.4L572 433" stroke="#484848" stroke-width="1.6" fill="none"/>
<path d="M649.6 401.8Q665 398.5 681.8 398" stroke="#484848" stroke-width="1.6" fill="none"/>
<path d="M681.8 444.4L662.6 444.4L648 456.8" stroke="#484848" stroke-width="1.6" fill="none"/>
<path d="M662.6 444.4L658 479" stroke="#484848" stroke-width="1.6" fill="none"/>
<path d="M500 128.4L524 128.4L550 152" stroke="#484848" stroke-width="1.6" fill="none"/>
<path d="M496 152.6L523 152.6L551 182" stroke="#484848" stroke-width="1.6" fill="none"/>
<path d="M494 217L521 217L548 239.5" stroke="#484848" stroke-width="1.6" fill="none"/>
<path d="M493 242L520 242L549.5 264" stroke="#484848" stroke-width="1.6" fill="none"/>
<path d="M596 148.8L613 148.8L631.5 190" stroke="#484848" stroke-width="1.6" fill="none"/>
<path d="M692 142.4L663 142.4L637 168.5" stroke="#484848" stroke-width="1.6" fill="none"/>
<path d="M663 142.4L666 183" stroke="#484848" stroke-width="1.6" fill="none"/>
<path d="M527 317L552.5 317L578.8 242.5" stroke="#484848" stroke-width="1.6" fill="none"/>
<path d="M552.5 317L617 262.5" stroke="#484848" stroke-width="1.6" fill="none"/>
<path d="M685.5 218L697 208L720 208" stroke="#484848" stroke-width="1.6" fill="none"/>
<path d="M675.5 243.8Q690 246 700.7 246L720 246" stroke="#484848" stroke-width="1.6" fill="none"/>
<path d="M687.7 303L704 284.4L720 284.4" stroke="#484848" stroke-width="1.6" fill="none"/>
<text x="93" y="348" font-family='"Liberation Serif", serif' font-size="19" font-weight="bold" fill="#111" text-anchor="start">11</text>
<text x="93.5" y="381.6" font-family='"Liberation Serif", serif' font-size="19" font-weight="bold" fill="#111" text-anchor="start">D</text>
<text x="96.5" y="425" font-family='"Liberation Serif", serif' font-size="19" font-weight="bold" fill="#111" text-anchor="start">8</text>
<text x="86" y="453" font-family='"Liberation Serif", serif' font-size="19" font-weight="bold" fill="#111" text-anchor="start">14</text>
<text x="186" y="389.2" font-family='"Liberation Serif", serif' font-size="17.5" font-weight="bold" fill="#111" text-anchor="start">B</text>
<text x="328.6" y="427" font-family='"Liberation Serif", serif' font-size="19" font-weight="bold" fill="#111" text-anchor="start">B</text>
<text x="311.3" y="376" font-family='"Liberation Serif", serif' font-size="19" font-weight="bold" fill="#111" text-anchor="start">12</text>
<text x="280.6" y="484" font-family='"Liberation Serif", serif' font-size="17" font-weight="bold" fill="#111" text-anchor="start">A</text>
<text transform="translate(88.8 510) scale(0.86 1)" font-family='"Liberation Serif", serif' font-size="19" font-weight="bold" fill="#111">C</text>
<text x="121.5" y="625" font-family='"Liberation Serif", serif' font-size="19" font-weight="bold" fill="#111" text-anchor="start">6</text>
<text x="243.5" y="659.5" font-family='"Liberation Serif", serif' font-size="19" font-weight="bold" fill="#111" text-anchor="start">10</text>
<text x="348.2" y="482" font-family='"Liberation Serif", serif' font-size="19" font-weight="bold" fill="#111" text-anchor="start">4</text>
<text x="416.2" y="481.3" font-family='"Liberation Serif", serif' font-size="19" font-weight="bold" fill="#111" text-anchor="start">1</text>
<text x="454.5" y="662" font-family='"Liberation Serif", serif' font-size="19" font-weight="bold" fill="#111" text-anchor="start">3</text>
<text x="535.6" y="565.7" font-family='"Liberation Serif", serif' font-size="19" font-weight="bold" fill="#111" text-anchor="start">9</text>
<text x="640.5" y="631" font-family='"Liberation Serif", serif' font-size="19" font-weight="bold" fill="#111" text-anchor="start">2</text>
<text x="479.4" y="420.3" font-family='"Liberation Serif", serif' font-size="19" font-weight="bold" fill="#111" text-anchor="start">5</text>
<text x="693.5" y="405" font-family='"Liberation Serif", serif' font-size="19" font-weight="bold" fill="#111" text-anchor="start">13</text>
<text x="693.5" y="451" font-family='"Liberation Serif", serif' font-size="19" font-weight="bold" fill="#111" text-anchor="start">10</text>
<text x="469" y="135.6" font-family='"Liberation Serif", serif' font-size="19" font-weight="bold" fill="#111" text-anchor="start">11</text>
<text x="470.5" y="159.8" font-family='"Liberation Serif", serif' font-size="19" font-weight="bold" fill="#111" text-anchor="start">D</text>
<text transform="translate(571.2 155) scale(0.86 1)" font-family='"Liberation Serif", serif' font-size="19" font-weight="bold" fill="#111">C</text>
<text x="473" y="225" font-family='"Liberation Serif", serif' font-size="19" font-weight="bold" fill="#111" text-anchor="start">8</text>
<text x="461.6" y="250" font-family='"Liberation Serif", serif' font-size="19" font-weight="bold" fill="#111" text-anchor="start">14</text>
<text x="704.5" y="149" font-family='"Liberation Serif", serif' font-size="19" font-weight="bold" fill="#111" text-anchor="start">12</text>
<text x="503.5" y="324" font-family='"Liberation Serif", serif' font-size="19" font-weight="bold" fill="#111" text-anchor="start">B</text>
<text x="646.5" y="243" font-family='"Liberation Serif", serif' font-size="13" font-weight="bold" fill="#111" text-anchor="start">A</text>
</g>
</svg>
</body></html>
